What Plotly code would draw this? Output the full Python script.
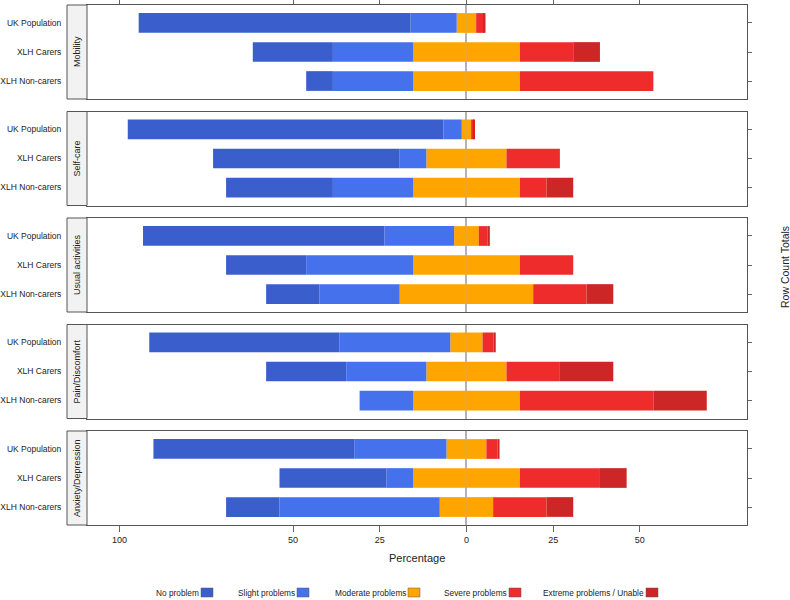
import plotly.graph_objects as go

# ---------------- data ----------------
dimensions = ["Mobility", "Self-care", "Usual activities", "Pain/Discomfort", "Anxiety/Depression"]
groups = ["UK Population", "XLH Carers", "XLH Non-carers"]
levels = ["No problem", "Slight problems", "Moderate problems", "Severe problems", "Extreme problems / Unable"]

no_problem = [[78.4, 23.1, 7.7], [91.0, 53.8, 30.8], [69.6, 23.1, 15.4], [54.8, 23.1, 0.0], [57.9, 30.8, 15.4]]
slight = [[13.3, 23.1, 23.1], [5.3, 7.7, 23.1], [20.1, 30.8, 23.1], [32.0, 23.1, 15.4], [26.6, 7.7, 46.2]]
moderate = [[5.6, 30.8, 30.8], [2.7, 23.1, 30.8], [7.1, 30.8, 38.5], [9.3, 23.1, 30.8], [11.5, 30.8, 15.4]]
severe = [[2.2, 15.4, 38.5], [0.8, 15.4, 7.7], [2.6, 15.4, 15.4], [3.2, 15.4, 38.5], [3.2, 23.1, 15.4]]
extreme = [[0.5, 7.7, 0.0], [0.2, 0.0, 7.7], [0.6, 0.0, 7.7], [0.6, 15.4, 15.4], [0.6, 7.7, 7.7]]

tick_vals = [-100, -50, -25, 0, 25, 50]
tick_text = ["100", "50", "25", "0", "25", "50"]

colors = ["#3A5FCD", "#4572EC", "#FFA500", "#EE2C2C", "#CD2626"]

# ---------------- layout geometry ----------------
W, H = 790, 600
ML, MR, MT, MB = 87, 43, 5, 75
PW, PH = W - ML - MR, H - MT - MB
n = len(dimensions)
gap_px = 12.5
panel_px = (PH - gap_px * (n - 1)) / n
FONT = "Liberation Sans, Arial, sans-serif"
FRAME = "#555555"
TXT = "#222222"

fig = go.Figure()
shapes = []
annotations = []
layout_axes = {}

for i, dim in enumerate(dimensions):
    k = i + 1
    top_px = i * (panel_px + gap_px)
    d1 = 1 - top_px / PH
    d0 = 1 - (top_px + panel_px) / PH
    xa = "x" if k == 1 else f"x{k}"
    ya = "y" if k == 1 else f"y{k}"
    yr = f"y{k + n}"

    mod_half = [m / 2 for m in moderate[i]]
    series = [
        ([-v for v in mod_half], colors[2], levels[2]),
        ([-v for v in slight[i]], colors[1], levels[1]),
        ([-v for v in no_problem[i]], colors[0], levels[0]),
        (mod_half, colors[2], levels[2]),
        (severe[i], colors[3], levels[3]),
        (extreme[i], colors[4], levels[4]),
    ]
    for vals, col, name in series:
        fig.add_trace(go.Bar(
            x=vals, y=groups, orientation="h", name=name,
            marker=dict(color=col, line=dict(width=0)),
            width=0.68, showlegend=False, xaxis=xa, yaxis=ya,
            hovertemplate=name + ": %{x:.1f}<extra></extra>",
        ))
    # hidden trace for the right-side tick axis
    fig.add_trace(go.Scatter(
        x=[0] * len(groups), y=groups, mode="markers",
        marker=dict(opacity=0), showlegend=False, hoverinfo="skip",
        xaxis=xa, yaxis=yr,
    ))

    xkey = "xaxis" if k == 1 else f"xaxis{k}"
    ykey = "yaxis" if k == 1 else f"yaxis{k}"
    xa_cfg = dict(
        range=[-109.4, 80.9], anchor=ya, showgrid=False, automargin=False,
        zeroline=True, zerolinecolor="#b3b3b3", zerolinewidth=1.5,
        showline=True, linecolor=FRAME, linewidth=1, mirror=True,
        tickvals=tick_vals, ticktext=tick_text,
        tickfont=dict(family=FONT, size=9, color=TXT),
        fixedrange=True,
    )
    if k == 1:
        xa_cfg.update(side="top", ticks="outside", ticklen=5, tickcolor="#666",
                      showticklabels=False)
    elif k == n:
        xa_cfg.update(side="bottom", ticks="outside", ticklen=6, tickcolor="#666",
                      showticklabels=True)
    else:
        xa_cfg.update(ticks="", showticklabels=False)
    if k > 1:
        xa_cfg["matches"] = "x"
    layout_axes[xkey] = xa_cfg

    layout_axes[ykey] = dict(
        domain=[d0, d1], anchor=xa, type="category", automargin=False,
        categoryorder="array", categoryarray=groups,
        range=[2.62, -0.62], showgrid=False, zeroline=False,
        showline=True, linecolor=FRAME, linewidth=1, mirror=True,
        ticks="outside", ticklen=23, tickcolor="rgba(0,0,0,0)",
        tickfont=dict(family=FONT, size=8.5, color=TXT),
        fixedrange=True,
    )
    layout_axes[f"yaxis{k + n}"] = dict(
        overlaying=ya, anchor=xa, side="right", type="category", automargin=False,
        categoryorder="array", categoryarray=groups,
        range=[2.62, -0.62], showgrid=False, zeroline=False, showline=False,
        ticks="outside", ticklen=4, tickcolor="#666", showticklabels=False,
        fixedrange=True,
    )

    # strip on the left
    sx0 = -20 / PW
    shapes.append(dict(type="rect", xref="paper", yref="paper",
                       x0=sx0, x1=0, y0=d0, y1=d1,
                       fillcolor="#f2f2f2", line=dict(color=FRAME, width=1),
                       layer="above"))
    annotations.append(dict(text=dim, xref="paper", yref="paper",
                            x=sx0 / 2, y=(d0 + d1) / 2, textangle=-90,
                            showarrow=False, xanchor="center", yanchor="middle",
                            font=dict(family=FONT, size=9, color=TXT)))

# axis titles
annotations.append(dict(text="Percentage", xref="paper", yref="paper",
                        x=0.5, y=-(558 - (H - MB)) / PH, showarrow=False,
                        xanchor="center", yanchor="middle",
                        font=dict(family=FONT, size=11, color=TXT)))
annotations.append(dict(text="Row Count Totals", xref="paper", yref="paper",
                        x=(785 - ML) / PW, y=(H - MB - 267) / PH, textangle=-90,
                        showarrow=False, xanchor="center", yanchor="middle",
                        font=dict(family=FONT, size=10.5, color=TXT)))

# custom legend (label then swatch, like the reference)
legend_swatch_left = [201, 297, 408, 509, 646]
leg_y = 592.5
for name, col, sx in zip(levels, colors, legend_swatch_left):
    annotations.append(dict(text=name, xref="paper", yref="paper",
                            x=(sx - ML) / PW, y=(H - MB - leg_y) / PH,
                            showarrow=False, xanchor="right", yanchor="middle",
                            font=dict(family=FONT, size=8.3, color=TXT)))
    shapes.append(dict(type="rect", xref="paper", yref="paper",
                       x0=(sx - ML) / PW, x1=(sx + 12 - ML) / PW,
                       y0=(H - MB - (leg_y + 4.5)) / PH, y1=(H - MB - (leg_y - 4.5)) / PH,
                       fillcolor=col, line=dict(color="#555", width=0.5)))

fig.update_layout(
    width=W, height=H,
    margin=dict(l=ML, r=MR, t=MT, b=MB, autoexpand=False),
    barmode="relative",
    plot_bgcolor="white", paper_bgcolor="white",
    showlegend=False,
    shapes=shapes, annotations=annotations,
    font=dict(family=FONT, color=TXT),
    **layout_axes,
)

fig.write_html("out.html")
